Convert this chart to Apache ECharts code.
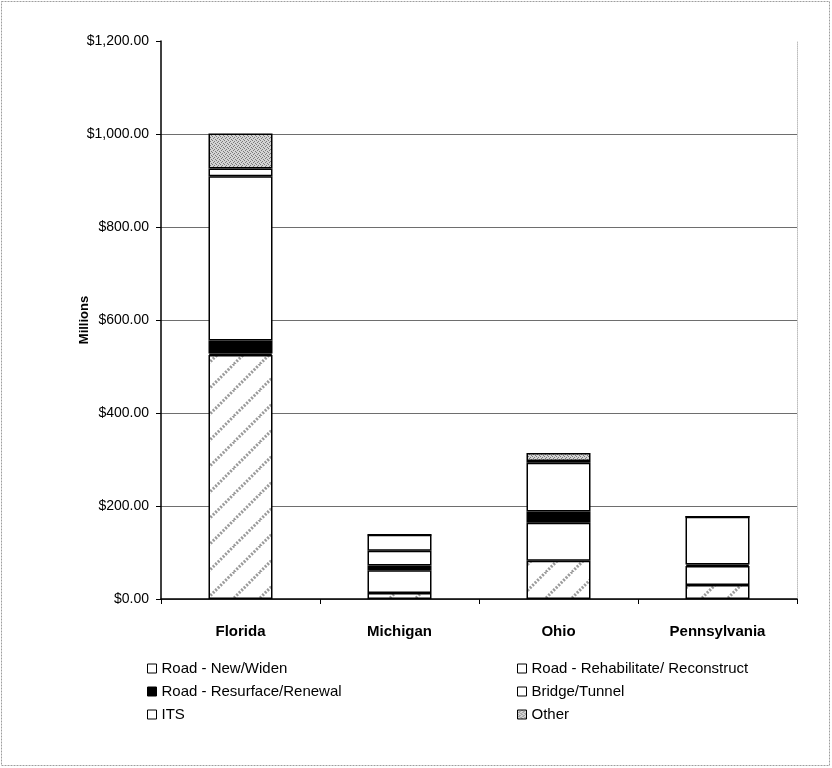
<!DOCTYPE html>
<html>
<head>
<meta charset="utf-8">
<title>Millions by state</title>
<script src="https://cdn.jsdelivr.net/npm/echarts@6/dist/echarts.min.js"></script>
<style>
  html, body { margin: 0; padding: 0; background: #fff; }
  #main { width: 832px; height: 768px; }
</style>
</head>
<body>
<div id="main"></div>
<script>
// data (millions of dollars)
const states = ["Florida", "Michigan", "Ohio", "Pennsylvania"]
const roadNewWiden = [525, 13, 82, 30]
const roadRehab = [3, 49, 82, 41]
const roadResurface = [28, 10, 24, 3]
const bridgeTunnel = [353, 32, 105, 103]
const its = [17, 34, 4, 0]
const other = [75, 0, 17, 0]
const yTicks = [0, 200, 400, 600, 800, 1000, 1200]

// diagonal hatch for "Road - New/Widen"
function hatchPattern() {
  const c = document.createElement("canvas")
  c.width = 26
  c.height = 26
  const ctx = c.getContext("2d")
  ctx.fillStyle = "#fff"
  ctx.fillRect(0, 0, 26, 26)
  ctx.strokeStyle = "#9a9a9a"
  ctx.lineWidth = 3
  ctx.setLineDash([2, 1.5])
  for (let k = -26; k <= 26; k += 26) {
    ctx.beginPath()
    ctx.moveTo(k, 26)
    ctx.lineTo(k + 26, 0)
    ctx.stroke()
  }
  return c
}

// speckled grey for "Other"
function speckPattern() {
  const c = document.createElement("canvas")
  c.width = 4
  c.height = 4
  const ctx = c.getContext("2d")
  ctx.fillStyle = "#d4d4d4"
  ctx.fillRect(0, 0, 4, 4)
  ctx.fillStyle = "#7a7a7a"
  ctx.fillRect(0, 0, 1, 1)
  ctx.fillRect(2, 1, 1, 1)
  ctx.fillRect(1, 2, 1, 1)
  ctx.fillRect(3, 3, 1, 1)
  return c
}

const font = "'Liberation Sans', Arial, sans-serif"
const border = { borderColor: "#000", borderWidth: 1.5 }

function bar(name, data, fill) {
  return {
    name: name,
    type: "bar",
    stack: "total",
    barWidth: 64,
    data: data,
    itemStyle: Object.assign({ color: fill }, border),
    emphasis: { disabled: true },
  }
}

const legendBase = {
  orient: "vertical",
  top: 656,
  itemWidth: 9,
  itemHeight: 9,
  itemGap: 8,
  icon: "rect",
  selectedMode: false,
  textStyle: { color: "#000", fontSize: 15, fontFamily: font },
  itemStyle: { borderColor: "#000", borderWidth: 1 },
}

const chart = echarts.init(document.getElementById("main"))
chart.setOption({
  animation: false,
  backgroundColor: "#fff",
  textStyle: { fontFamily: font },
  grid: { left: 161, right: 35, top: 41, bottom: 169 },
  xAxis: {
    type: "category",
    data: states,
    axisLine: { lineStyle: { color: "#000", width: 1.5 } },
    axisTick: { show: true, length: 5, lineStyle: { color: "#000" } },
    axisLabel: { color: "#000", fontSize: 15, fontWeight: "bold", margin: 25, fontFamily: font },
  },
  yAxis: [
    {
      type: "value",
      min: 0,
      max: 1200,
      interval: 200,
      name: "Millions",
      nameLocation: "middle",
      nameGap: 70,
      nameMoveOverlap: false,
      nameRotate: 90,
      nameTextStyle: { color: "#000", fontSize: 13, fontWeight: "bold", fontFamily: font },
      axisLine: { show: true, lineStyle: { color: "#000", width: 1.5 } },
      axisTick: { show: true, length: 5, lineStyle: { color: "#000" } },
      axisLabel: {
        color: "#000",
        fontSize: 14,
        margin: 12,
        fontFamily: font,
        formatter: (v) => "$" + v.toLocaleString("en-US", { minimumFractionDigits: 2, maximumFractionDigits: 2 }),
      },
      splitLine: {
        show: true,
        lineStyle: {
          // last line ($1,200) is not drawn in the original
          color: yTicks.map((t) => (t === 1200 ? "rgba(0,0,0,0)" : "#6e6e6e")),
          width: 1,
        },
      },
    },
    {
      type: "value",
      min: 0,
      max: 1200,
      interval: 200,
      position: "right",
      axisLine: { show: true, lineStyle: { color: "#bdbdbd", type: "dotted" } },
      axisTick: { show: false },
      axisLabel: { show: false },
      splitLine: { show: false },
    },
  ],
  legend: [
    Object.assign({}, legendBase, {
      left: 142,
      data: [
        { name: "Road - New/Widen", itemStyle: { color: "#fff" } },
        "Road - Resurface/Renewal",
        "ITS",
      ],
    }),
    Object.assign({}, legendBase, {
      left: 512,
      data: ["Road - Rehabilitate/ Reconstruct", "Bridge/Tunnel", "Other"],
    }),
  ],
  graphic: [
    {
      type: "rect",
      shape: { x: 1.5, y: 1.5, width: 828, height: 764 },
      style: { fill: "none", stroke: "#9e9e9e", lineWidth: 1, lineDash: [2, 1] },
      silent: true,
    },
  ],
  series: [
    bar("Road - New/Widen", roadNewWiden, { image: hatchPattern(), repeat: "repeat" }),
    bar("Road - Rehabilitate/ Reconstruct", roadRehab, "#fff"),
    bar("Road - Resurface/Renewal", roadResurface, "#000"),
    bar("Bridge/Tunnel", bridgeTunnel, "#fff"),
    bar("ITS", its, "#fff"),
    bar("Other", other, { image: speckPattern(), repeat: "repeat" }),
  ],
})
window.addEventListener("resize", () => {
  chart.resize()
})
</script>
</body>
</html>
